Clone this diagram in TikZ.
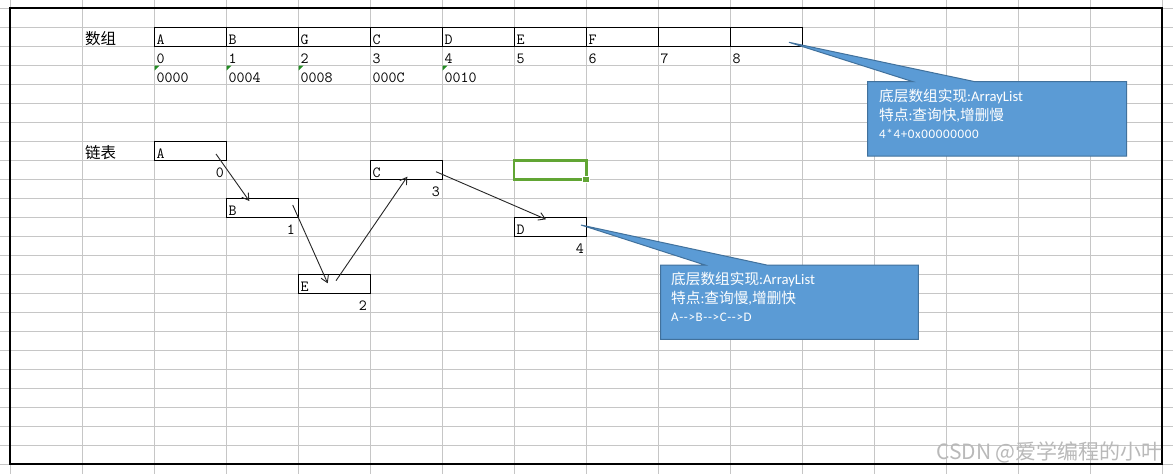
\documentclass[tikz,border=0pt]{standalone}
\usepackage{fontspec}
\usetikzlibrary{arrows.meta}
\newfontfamily\cjkf{Noto Sans CJK SC}
\newfontfamily\calf{Carlito}
\newfontfamily\calsp{Carlito}[LetterSpace=5]
\definecolor{gridc}{RGB}{198,198,198}
\definecolor{callfill}{RGB}{91,155,213}
\definecolor{callline}{RGB}{65,113,156}
\definecolor{selgreen}{RGB}{97,165,52}
\definecolor{trigreen}{RGB}{34,139,34}
\definecolor{wmc}{RGB}{185,185,185}
\begin{document}
\begin{tikzpicture}[x=1pt,y=-1pt,
  cellbox/.style={draw=black, line width=1pt, minimum width=72pt, minimum height=19pt, inner sep=0pt, outer sep=0pt, anchor=north west},
  celltxt/.style={inner sep=0pt, anchor=base west, font=\ttfamily\fontsize{15.5}{18}\selectfont},
  idxtxt/.style={inner sep=0pt, anchor=base east, font=\ttfamily\fontsize{15.5}{18}\selectfont},
  headtxt/.style={inner sep=0pt, anchor=base west, font=\cjkf\fontsize{15.5}{18}\selectfont},
  calltxt/.style={inner sep=0pt, anchor=base west, text=white, font=\fontsize{14.67}{17}\selectfont},
  callsmall/.style={inner sep=0pt, anchor=base west, text=white, font=\calsp\fontsize{13}{15}\selectfont},
  callshape/.style={fill=callfill, draw=callline, line width=1pt, line join=miter},
  linkarrow/.style={draw=black!85, line width=0.9pt, -{Straight Barb[length=6.5pt,width=8pt,line width=0.9pt]}},
  gridline/.style={draw=gridc, line width=1pt}
]
\useasboundingbox (0,0) rectangle (1173,474);
\fill[white] (0,0) rectangle (1173,474);
% grid
\foreach \k in {0,...,16} { \draw[gridline] ({10+72*\k},0) -- ({10+72*\k},474); }
\foreach \k in {0,...,24} { \draw[gridline] (0,{8+19*\k}) -- (1173,{8+19*\k}); }
% border
\draw[black, line width=2.7pt] (10,8) rectangle (1162,464);

% array
\node[headtxt] (harr) at (85,44.2) {数组};
\foreach \x/\t/\i [count=\n from 0] in {154/A/0,226/B/1,298/G/2,370/C/3,442/D/4,514/E/5,586/F/6,658//7,730//8} {
  \node[cellbox] (c\n) at (\x,27) {};
  \node[celltxt] (ct\n) at ({\x+2.5},44) {\t};
  \node[celltxt] (ci\n) at ({\x+2.5},63.3) {\i};
}
\foreach \x/\t [count=\n from 0] in {154/0000,226/0004,298/0008,370/000C,442/0010} {
  \node[celltxt] (ca\n) at ({\x+2.5},82) {\t};
}
\foreach \x in {154,226,298,442} {
  \fill[trigreen] ({\x+0.5},65.5) -- ({\x+5.5},65.5) -- ({\x+0.5},70.5) -- cycle;
}

% linked list
\node[headtxt] (hlist) at (85,158) {链表};
\node[cellbox] (lA) at (154,141) {};
\node[cellbox] (lB) at (226,198) {};
\node[cellbox] (lE) at (298,274) {};
\node[cellbox] (lC) at (370,160) {};
\node[cellbox] (lD) at (514,217) {};
\node[celltxt] (tA) at (156.5,158) {A};
\node[celltxt] (tB) at (228.5,215) {B};
\node[celltxt] (tE) at (300.5,291) {E};
\node[celltxt] (tC) at (372.5,177) {C};
\node[celltxt] (tD) at (516.5,234) {D};
\node[idxtxt] (iA) at (224,177) {0};
\node[idxtxt] (iB) at (295,234) {1};
\node[idxtxt] (iE) at (367,310) {2};
\node[idxtxt] (iC) at (440,196) {3};
\node[idxtxt] (iD) at (584,253) {4};

\coordinate (pA) at (216,154);
\coordinate (qB) at (249.3,201);
\coordinate (pB) at (292.7,205);
\coordinate (qE) at (327.7,283.3);
\coordinate (pE) at (336,280.7);
\coordinate (qC) at (407.3,176.7);
\coordinate (pC) at (436,171.7);
\coordinate (qD) at (546,219.3);
\draw[linkarrow] (pA) -- (qB);
\draw[linkarrow] (pB) -- (qE);
\draw[linkarrow] (pE) -- (qC);
\draw[linkarrow] (pC) -- (qD);

% selection
\draw[selgreen, line width=2.7pt] (514,160.3) rectangle (586.3,179.3);
\fill[white] (582.3,175.7) rectangle (590.3,183.3);
\fill[selgreen] (583.3,176.7) rectangle (589.3,182.3);

% callout 1
\draw[callshape] (867.7,81.7) -- (913,81.7) -- (789,42.3) -- (975,81.7) -- (1126.7,81.7) -- (1126.7,156) -- (867.7,156) -- cycle;
\node[calltxt] (k1a) at (879,101.5) {{\cjkf 底层数组实现}{\calf :ArrayList}};
\node[calltxt] (k1b) at (879,120.5) {{\cjkf 特点}{\calf :}{\cjkf 查询快}{\calf ,}{\cjkf 增删慢}};
\node[callsmall] (k1c) at (879,138.3) {4*4+0x00000000};

% callout 2
\draw[callshape] (660.7,265) -- (705,265) -- (581,225) -- (766.7,265) -- (918.3,265) -- (918.3,339.3) -- (660.7,339.3) -- cycle;
\node[calltxt] (k2a) at (671,284) {{\cjkf 底层数组实现}{\calf :ArrayList}};
\node[calltxt] (k2b) at (671,303.5) {{\cjkf 特点}{\calf :}{\cjkf 查询慢}{\calf ,}{\cjkf 增删快}};
\node[callsmall] (k2c) at (671,321) {A-->B-->C-->D};

% watermark
\node[inner sep=0pt, anchor=base east, text=wmc, font=\cjkf\fontsize{21}{24}\selectfont] (wm) at (1163,459.5) {CSDN @爱学编程的小叶};
\end{tikzpicture}
\end{document}
